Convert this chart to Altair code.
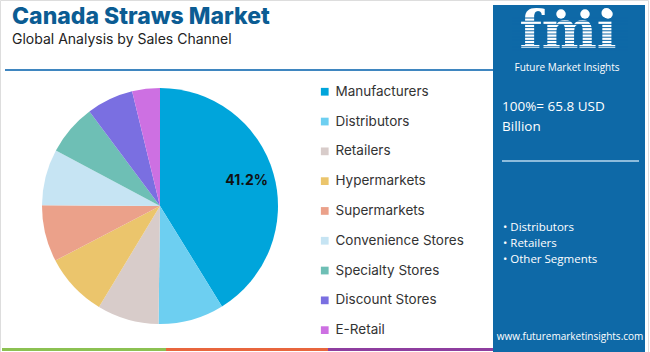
import altair as alt
import pandas as pd

categories = ["Manufacturers", "Distributors", "Retailers", "Hypermarkets", "Supermarkets",
              "Convenience Stores", "Specialty Stores", "Discount Stores", "E-Retail"]
shares = [41.2, 9.0, 8.45, 8.7, 7.75, 7.7, 7.0, 6.4, 3.8]
labels = ["41.2%", "", "", "", "", "", "", "", ""]
colors = ["#00A5DB", "#6DCFF1", "#D8CCCA", "#EBC56C", "#EBA18A",
          "#C6E4F3", "#6EBFB5", "#7A6FE1", "#CD70E2"]

title_text = "Canada Straws Market"
subtitle_text = "Global Analysis by Sales Channel"
panel_lines = ["100%= 65.8 USD", "Billion"]
bullets = ["• Distributors", "• Retailers", "• Other Segments"]
website = "www.futuremarketinsights.com"

df = pd.DataFrame({"category": categories, "share": shares, "label": labels,
                   "idx": list(range(len(categories)))})

BLUE = "#0E69A7"
one = pd.DataFrame({"a": [0]})

def txt(text, x, y, size, color, weight="normal", font="Inter", align="left", baseline="middle"):
    return alt.Chart(one).mark_text(text=text, fontSize=size, color=color, fontWeight=weight,
                                    font=font, align=align, baseline=baseline).encode(
        x=alt.value(x), y=alt.value(y))

def rect(x, x2, y, y2, color):
    return alt.Chart(one).mark_rect(color=color).encode(
        x=alt.value(x), x2=alt.value(x2), y=alt.value(y), y2=alt.value(y2))

border = alt.Chart(one).mark_rect(fill=None, stroke="#DDDDDD", strokeWidth=1).encode(
    x=alt.value(0.5), x2=alt.value(648.5), y=alt.value(0.5), y2=alt.value(360))

panel = rect(493, 645, 5, 352, BLUE)

title = txt(title_text, 12, 17, 23, "#0B5C93", weight=800)
subtitle = txt(subtitle_text, 12, 40, 14, "#222222")
hline = alt.Chart(one).mark_rule(color="#3F86C0", strokeWidth=2).encode(
    x=alt.value(5), x2=alt.value(493), y=alt.value(70))

pie = alt.Chart(df).mark_arc(outerRadius=118).encode(
    theta=alt.Theta("share:Q", stack=True),
    order=alt.Order("idx:Q"),
    color=alt.Color("category:N", scale=alt.Scale(domain=categories, range=colors),
                    legend=alt.Legend(orient="none", legendX=318, legendY=85, title=None,
                                      symbolType="square", symbolSize=60, symbolStrokeWidth=0,
                                      labelFontSize=13.5, labelFont="Inter", labelColor="#333333",
                                      rowPadding=14.8, labelOffset=4, labelLimit=200)),
    x=alt.value(160), y=alt.value(206),
)

pie_label = alt.Chart(df).mark_text(radius=90, fontSize=14, fontWeight="bold", font="Inter",
                                    color="#111111").encode(
    theta=alt.Theta("share:Q", stack=True),
    order=alt.Order("idx:Q"),
    detail="category:N",
    text="label:N",
    x=alt.value(160), y=alt.value(206),
)

# logo
logo = txt("fmi", 568, 59, 52, "white", weight="bold", font="DejaVu Serif",
           align="center", baseline="bottom")
stripe_y = pd.DataFrame({"y": [18 + 3.2 * i for i in range(11)]})
stripes = alt.Chart(stripe_y).mark_rule(color=BLUE, strokeWidth=1).encode(
    x=alt.value(512), x2=alt.value(628),
    y=alt.Y("y:Q", scale=alt.Scale(domain=[0, 352], range=[0, 352]), axis=None))
dots = alt.Chart(pd.DataFrame({"x": [561, 585, 608]})).mark_circle(color="white", size=90, opacity=1).encode(
    x=alt.X("x:Q", scale=alt.Scale(domain=[0, 650], range=[0, 650]), axis=None),
    y=alt.value(14))
logo_sub = txt("Future Market Insights", 567, 68, 10, "white", font="Open Sans", align="center")

p1 = txt(panel_lines[0], 502, 107, 13.5, "white", font="Open Sans")
p2 = txt(panel_lines[1], 502, 127, 13.5, "white", font="Open Sans")
pline = alt.Chart(one).mark_rule(color="#B8D8EE", strokeWidth=1.5).encode(
    x=alt.value(502), x2=alt.value(639), y=alt.value(161))
b_layers = [txt(b, 503, y, 11.5, "white", font="Open Sans") for b, y in zip(bullets, [228, 244, 260])]
web = txt(website, 570, 337, 10, "white", font="Open Sans", align="center")

bars = [rect(2, 166, 348, 351, "#8CC152"), rect(166, 328, 348, 351, "#E8663D"),
        rect(328, 493, 348, 351, "#8E3E9F")]

chart = alt.layer(
    border, panel, title, subtitle, hline, pie, pie_label,
    logo, stripes, dots, logo_sub, p1, p2, pline, *b_layers, web, *bars
).resolve_scale(color="independent").properties(
    width=650, height=352, padding=0, autosize=alt.AutoSizeParams(type="none"),
    background="white"
).configure_view(stroke=None)

chart.save("out.html", embed_options={"renderer": "svg", "actions": False})
